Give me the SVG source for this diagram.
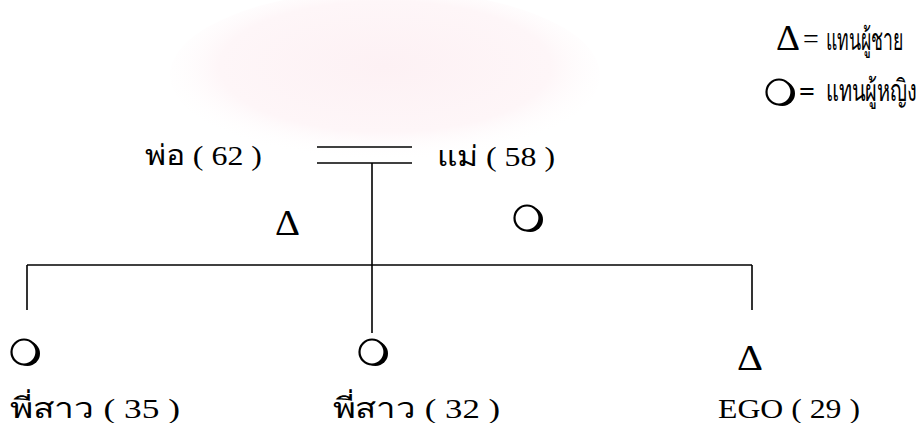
<svg xmlns="http://www.w3.org/2000/svg" width="920" height="423" viewBox="0 0 920 423">
  <style>
    .t{font-family:'Liberation Serif',serif;font-size:28px;fill:#000}
    .sym{font-family:'Liberation Serif',serif;font-size:35px;fill:#000}
    .ln{stroke:#000;stroke-width:1.6;fill:none}
  </style>
  <defs>
    <radialGradient id="glow" cx="50%" cy="45%" r="55%">
      <stop offset="0" stop-color="#fdf1f4"/>
      <stop offset="0.7" stop-color="#fef6f8"/>
      <stop offset="1" stop-color="#ffffff" stop-opacity="0"/>
    </radialGradient>
    <g id="fem">
      <ellipse cx="3.5" cy="1.5" rx="12.5" ry="12.5" fill="#000"/>
      <ellipse cx="0" cy="0" rx="12.5" ry="12.5" fill="#fff" stroke="#000" stroke-width="2.2"/>
    </g>
  </defs>
  <rect width="920" height="423" fill="#fff"/>
  <ellipse cx="385" cy="75" rx="215" ry="85" fill="url(#glow)"/>
  <g id="connectors">
    <line class="ln" x1="317" y1="147" x2="412" y2="147"/>
    <line class="ln" x1="317" y1="163" x2="412" y2="163"/>
    <line class="ln" x1="372" y1="163" x2="372" y2="333"/>
    <line class="ln" x1="27" y1="265" x2="752" y2="265"/>
    <line class="ln" x1="27" y1="265" x2="27" y2="310"/>
    <line class="ln" x1="752" y1="265" x2="752" y2="310"/>
  </g>
  <g id="legend">
    <text class="sym" x="776" y="50" textLength="24" lengthAdjust="spacingAndGlyphs">Δ</text>
    <text class="t" x="803" y="48">=</text>
    <text class="t" transform="translate(826,50) scale(0.64,1.08)" x="0" y="0" textLength="122" lengthAdjust="spacingAndGlyphs">แทนผู้ชาย</text>
    <use href="#fem" x="779" y="92"/>
    <text class="t" x="799" y="101" font-weight="bold">=</text>
    <text class="t" transform="translate(826,101) scale(0.64,1.08)" x="0" y="0" textLength="142" lengthAdjust="spacingAndGlyphs">แทนผู้หญิง</text>
  </g>
  <g id="father">
    <text class="t" x="145" y="165" textLength="117" lengthAdjust="spacingAndGlyphs">พ่อ ( 62 )</text>
  </g>
  <g id="mother">
    <text class="t" x="437" y="166" textLength="118" lengthAdjust="spacingAndGlyphs">แม่ ( 58 )</text>
  </g>
  <g id="male-symbol">
    <text class="sym" x="275" y="235" textLength="25" lengthAdjust="spacingAndGlyphs">Δ</text>
  </g>
  <g id="female-symbol">
    <use href="#fem" x="527" y="218"/>
  </g>
  <g id="sister1">
    <use href="#fem" x="24" y="352"/>
    <text class="t" x="10" y="418" textLength="170" lengthAdjust="spacingAndGlyphs">พี่สาว ( 35 )</text>
  </g>
  <g id="sister2">
    <use href="#fem" x="372" y="352"/>
    <text class="t" x="333" y="418" textLength="167" lengthAdjust="spacingAndGlyphs">พี่สาว ( 32 )</text>
  </g>
  <g id="ego">
    <text class="sym" x="737" y="370" textLength="26" lengthAdjust="spacingAndGlyphs">Δ</text>
    <text class="t" x="718" y="418" textLength="142" lengthAdjust="spacingAndGlyphs">EGO ( 29 )</text>
  </g>
</svg>
